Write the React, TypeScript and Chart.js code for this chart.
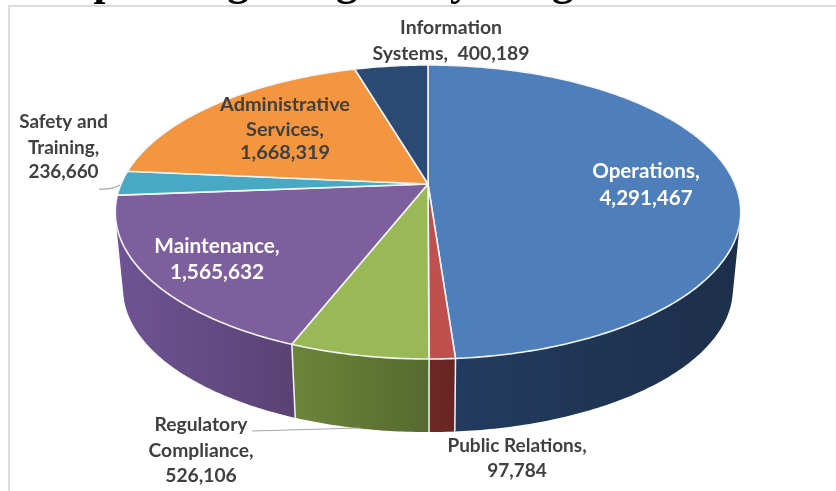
import React, { useEffect, useRef } from "react";
import { Chart, registerables } from "chart.js";

Chart.register(...registerables);

const categories = ["Operations", "Public Relations", "Regulatory Compliance", "Maintenance", "Safety and Training", "Administrative Services", "Information Systems"];
const budgetValues = [4291467, 97784, 526106, 1565632, 236660, 1668319, 400189];
const faceColors = ["#4e7fbb", "#c0504d", "#98b955", "#7e5f9e", "#47a9c3", "#f3963f", "#2b4b75"];
const wallColorsLeft = ["#223c60", "#6d2824", "#6c853a", "#6f5494", "#2f7f94", "#b56e2c", "#1f3856"];
const wallColorsRight = ["#1c2f4a", "#672522", "#566a2e", "#5a4274", "#2f7f94", "#b56e2c", "#1f3856"];
const titleWords = ["Operating Budget", "by", "Program"];
const titleX = [60, 426, 486];

const fmt = (v: number) => v.toLocaleString("en-US");
const labelRows: { lines: string[]; x: number; ys: number[]; color: string; size: number }[] = [
  { lines: ["Operations,", fmt(budgetValues[0])], x: 646, ys: [171, 198], color: "#ffffff", size: 20.6 },
  { lines: ["Public Relations,", fmt(budgetValues[1])], x: 517, ys: [446, 471], color: "#404040", size: 19 },
  { lines: ["Regulatory", "Compliance,", fmt(budgetValues[2])], x: 201, ys: [425, 451, 476], color: "#404040", size: 19.3 },
  { lines: ["Maintenance,", fmt(budgetValues[3])], x: 217, ys: [246, 272], color: "#ffffff", size: 20.8 },
  { lines: ["Safety and", "Training,", fmt(budgetValues[4])], x: 63.5, ys: [122, 148, 172], color: "#404040", size: 18.9 },
  { lines: ["Administrative", "Services,", fmt(budgetValues[5])], x: 285, ys: [105, 130, 153], color: "#404040", size: 19.9 },
  { lines: ["Information", "Systems,  " + fmt(budgetValues[6])], x: 451, ys: [28, 54], color: "#404040", size: 19.4 },
];

// Perspective projection of the unit disc onto the page.
const K = -0.1905;
const topRim = { cx: 428, cy: 184, a: 307, b: 141.67 };
const lowRim = { cx: 428, cy: 261.6, a: 299.3, b: 138 };
type Rim = typeof topRim;
type P = [number, number];
const project = (r: Rim, t: number): P => {
  const X = Math.cos(t), Y = Math.sin(t);
  const w = 1 + K * Y;
  return [r.cx + (r.a * X) / w, r.cy + (r.b * Y) / w];
};
const arcPoints = (r: Rim, s: number, e: number) => {
  const n = Math.max(2, Math.ceil((e - s) / 0.012));
  const pts: P[] = [];
  for (let i = 0; i <= n; i++) pts.push(project(r, s + ((e - s) * i) / n));
  return pts;
};
const signedArea = (q: P[]) =>
  q.reduce((sum, p, i) => {
    const n = q[(i + 1) % q.length];
    return sum + p[0] * n[1] - n[0] * p[1];
  }, 0);

const pie3d = {
  id: "pie3d",
  beforeDraw(chart: any) {
    const ctx = chart.ctx;
    ctx.save();
    ctx.strokeStyle = "#dcdcdc";
    ctx.lineWidth = 2;
    ctx.beginPath();
    ctx.moveTo(836, 6);
    ctx.lineTo(9, 6);
    ctx.lineTo(9, 491);
    ctx.stroke();
    ctx.fillStyle = "#000";
    ctx.font = "bold 43px 'Liberation Serif'";
    ctx.textBaseline = "alphabetic";
    ctx.textAlign = "left";
    titleWords.forEach((w, i) => ctx.fillText(w, titleX[i], -5));
    ctx.restore();
  },
  beforeDatasetsDraw(chart: any) {
    const ctx = chart.ctx;
    const arcs = chart.getDatasetMeta(0).data;
    ctx.save();
    ctx.lineJoin = "round";
    // side wall (only the slices that reach the front): quads of one winding in one path
    arcs.forEach((arc: any, i: number) => {
      if (Math.sin(arc.endAngle) < 0) return;
      const up = arcPoints(topRim, arc.startAngle, arc.endAngle);
      const low = arcPoints(lowRim, arc.startAngle, arc.endAngle);
      const xs = up.map((p) => p[0]);
      const g = ctx.createLinearGradient(Math.min(...xs), 0, Math.max(...xs), 0);
      g.addColorStop(0, wallColorsLeft[i]);
      g.addColorStop(1, wallColorsRight[i]);
      ctx.fillStyle = g;
      ctx.beginPath();
      for (let j = 0; j < up.length - 1; j++) {
        const q: P[] = [up[j], up[j + 1], low[j + 1], low[j]];
        if (signedArea(q) < 0) q.reverse();
        q.forEach((p, k) => (k ? ctx.lineTo(p[0], p[1]) : ctx.moveTo(p[0], p[1])));
        ctx.closePath();
      }
      ctx.fill("nonzero");
    });
    // vertical separators on the front of the wall
    ctx.strokeStyle = "#f4f4f4";
    ctx.lineWidth = 1.5;
    arcs.forEach((arc: any) => {
      if (Math.sin(arc.endAngle) > 0.2) {
        const a = project(topRim, arc.endAngle);
        const b = project(lowRim, arc.endAngle);
        ctx.beginPath();
        ctx.moveTo(a[0], a[1]);
        ctx.lineTo(b[0], b[1]);
        ctx.stroke();
      }
    });
    // top faces
    arcs.forEach((arc: any, i: number) => {
      ctx.beginPath();
      ctx.moveTo(topRim.cx, topRim.cy);
      arcPoints(topRim, arc.startAngle, arc.endAngle).forEach((p) => ctx.lineTo(p[0], p[1]));
      ctx.closePath();
      ctx.fillStyle = faceColors[i];
      ctx.fill();
      ctx.strokeStyle = "#f4f6f8";
      ctx.lineWidth = 1.6;
      ctx.stroke();
    });
    ctx.restore();
    return false;
  },
  afterDraw(chart: any) {
    const ctx = chart.ctx;
    ctx.save();
    ctx.strokeStyle = "#a6a6a6";
    ctx.lineWidth = 1.25;
    ctx.beginPath();
    ctx.moveTo(252, 431);
    ctx.lineTo(360, 428);
    ctx.moveTo(99, 189);
    ctx.quadraticCurveTo(112, 190, 120, 185);
    ctx.stroke();
    ctx.textAlign = "center";
    ctx.textBaseline = "middle";
    labelRows.forEach((row) => {
      ctx.font = `bold ${row.size}px Lato`;
      ctx.fillStyle = row.color;
      row.lines.forEach((line, i) => ctx.fillText(line, row.x, row.ys[i]));
    });
    ctx.restore();
  },
};

export default function App() {
  const ref = useRef<HTMLCanvasElement>(null);
  useEffect(() => {
    const chart = new Chart(ref.current!, {
      type: "pie",
      data: {
        labels: categories,
        datasets: [{ data: budgetValues, backgroundColor: faceColors, borderWidth: 0 }],
      },
      options: {
        responsive: false,
        animation: false,
        plugins: { legend: { display: false }, tooltip: { enabled: false }, title: { display: false } },
      },
      plugins: [pie3d],
    } as any);
    return () => chart.destroy();
  }, []);
  return (
    <canvas
      ref={ref}
      width={836}
      height={491}
      style={{ position: "fixed", left: 0, top: 0, width: 836, height: 491, display: "block", filter: "blur(0.4px)" }}
    />
  );
}
